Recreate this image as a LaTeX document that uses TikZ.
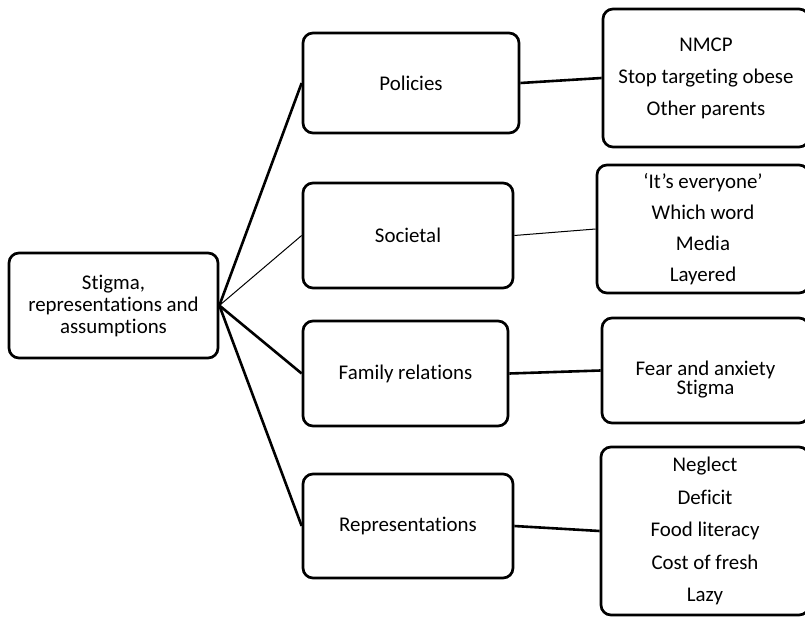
\documentclass[tikz,border=0pt]{standalone}
\usepackage{fontspec}
\setmainfont{Carlito}[Ligatures={NoCommon,NoContextual,NoRequired},
  RawFeature={-liga;-clig;-calt;-dlig}]
% keep "t" and "i" as separate glyphs (no ti ligature)
\newcommand{\ti}{t\kern0pt i}
\begin{document}
\begin{tikzpicture}[x=1pt,y=-1pt,
  box/.style={draw, line width=2.7pt, rounded corners=10pt, align=center,
    inner sep=0pt, font=\fontsize{20.9}{22}\selectfont},
  lead/.style={line width=2.6pt},
  faint/.style={line width=1pt}]
\useasboundingbox (0,0) rectangle (805,617);

% root topic
\node[box, minimum width=209, minimum height=105] (root) at (113.5,305.5)
  {Stigma,\\representa\ti ons and\\assump\ti ons};

% themes
\node[box, minimum width=216, minimum height=100] (pol) at (411,83) {Policies};
\node[box, minimum width=210, minimum height=105] (soc) at (408,235.5) {Societal};
\node[box, minimum width=205, minimum height=105] (fam) at (405.5,373.5) {Family rela\ti ons};
\node[box, minimum width=210, minimum height=104] (rep) at (408,526) {Representa\ti ons};

% sub-themes (their right sides run off the page edge)
\node[box, minimum width=206, minimum height=138,
  font=\fontsize{20.9}{32}\selectfont] (polsub) at (706,78)
  {NMCP\\Stop targe\ti ng obese\\Other parents};
\node[box, minimum width=212, minimum height=128,
  font=\fontsize{20.9}{31}\selectfont] (socsub) at (703,229)
  {‘It’s everyone’\\Which word\\Media\\Layered};
\node[box, minimum width=207, minimum height=105, text height=52pt,
  font=\fontsize{20.9}{19}\selectfont] (famsub) at (705.5,370.5)
  {Fear and anxiety\\Stigma};
\node[box, minimum width=208, minimum height=168,
  font=\fontsize{20.9}{32.5}\selectfont] (repsub) at (705,531)
  {Neglect\\Deficit\\Food literacy\\Cost of fresh\\Lazy};

% connectors
\draw[lead] (root.east) -- (pol.west);
\draw[faint] (root.east) -- (soc.west);
\draw[lead] (root.east) -- (fam.west);
\draw[lead] (root.east) -- (rep.west);

\draw[lead] (pol.east) -- (polsub.west);
\draw[faint] (soc.east) -- (socsub.west);
\draw[lead] (fam.east) -- (famsub.west);
\draw[lead] (rep.east) -- (repsub.west);
\end{tikzpicture}
\end{document}
